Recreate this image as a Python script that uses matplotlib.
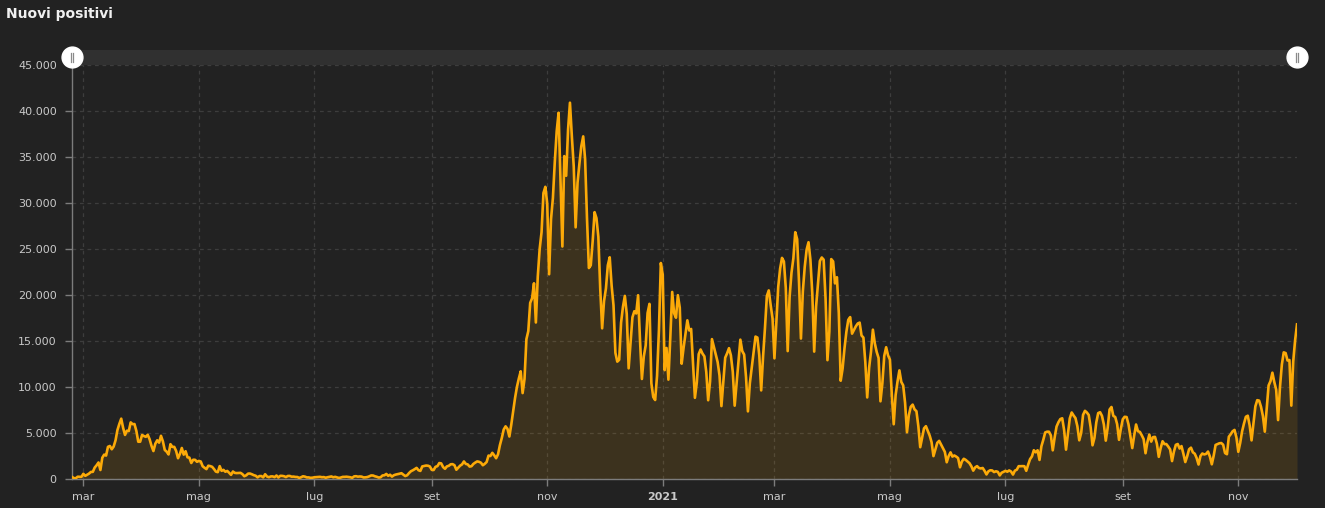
import matplotlib
matplotlib.use("Agg")
import matplotlib.pyplot as plt
import matplotlib.dates as mdates
from matplotlib.ticker import FuncFormatter
from matplotlib.patches import Rectangle
import pandas as pd
import numpy as np

# ---------------- data: daily new positives (Italy) ----------------
start_date = "2020-02-24"
feb_2020 = [221, 93, 78, 250, 238, 240]
mar_2020 = [566, 342, 466, 587, 769, 778, 1247, 1492, 1797, 977, 2313, 2651, 2547, 3497, 3590, 3233,
            3526, 4207, 5322, 5986, 6557, 5560, 4789, 5249, 5210, 6153, 5959, 5974, 5217, 4050, 4053]
apr_2020 = [4782, 4668, 4585, 4805, 4316, 3599, 3039, 3836, 4204, 3951, 4694, 4092, 3153, 2972, 2667,
            3786, 3493, 3491, 3047, 2256, 2729, 3370, 2646, 3021, 2357, 2324, 1739, 2091, 2086, 1872]
may_2020 = [1965, 1900, 1389, 1221, 1075, 1444, 1401, 1327, 1083, 802, 744, 1402, 888, 992, 789, 875,
            675, 451, 813, 665, 642, 652, 669, 531, 300, 397, 584, 593, 516, 416, 355]
jun_2020 = [178, 318, 321, 177, 518, 270, 197, 280, 283, 202, 379, 163, 346, 338, 301, 210, 329, 333,
            251, 262, 224, 218, 122, 190, 296, 259, 175, 174, 126, 142]
jul_2020 = [187, 201, 223, 235, 192, 208, 138, 193, 229, 276, 188, 234, 169, 114, 162, 230, 233, 249,
            219, 190, 129, 282, 306, 252, 275, 255, 170, 181, 212, 289, 386]
aug_2020 = [379, 295, 239, 159, 190, 384, 402, 552, 347, 463, 259, 412, 481, 523, 574, 629, 479, 320,
            403, 642, 845, 947, 1071, 1210, 953, 878, 1367, 1409, 1462, 1444, 1365]
sep_2020 = [996, 978, 1326, 1397, 1733, 1695, 1297, 1108, 1370, 1434, 1597, 1616, 1501, 1008, 1229,
            1452, 1585, 1907, 1638, 1587, 1350, 1391, 1640, 1786, 1912, 1869, 1766, 1494, 1648, 1851]
oct_2020 = [2548, 2499, 2844, 2578, 2257, 2677, 3678, 4458, 5372, 5724, 5456, 4619, 5901, 7332, 8804,
            10010, 10925, 11705, 9338, 10874, 15199, 16079, 19143, 19644, 21273, 17012, 21994, 24991,
            26831, 31084, 31758]
nov_2020 = [29907, 22253, 28244, 30550, 34505, 37809, 39811, 32616, 25271, 35098, 32961, 37978, 40902,
            37255, 33979, 27354, 32191, 34282, 36176, 37242, 34767, 28337, 22930, 23232, 25853, 29003,
            28352, 26323, 20648, 16377]
dec_2020 = [19350, 20709, 23225, 24099, 21052, 18887, 13720, 12756, 12955, 16999, 18727, 19903, 17938,
            12030, 14844, 17572, 18236, 17992, 19974, 15104, 10872, 13318, 14522, 18040, 19037, 10407,
            8913, 8585, 11212, 16202, 23477]
jan_2021 = [22211, 11831, 14245, 10800, 15378, 20331, 18020, 17533, 19978, 18627, 12532, 14242, 15774,
            17246, 16146, 16310, 12545, 8824, 10497, 13571, 14078, 13633, 13331, 11629, 8561, 10593,
            15204, 14372, 13574, 12715, 11252]
feb_2021 = [7925, 10630, 13189, 13659, 14218, 13442, 11641, 7970, 10404, 12956, 15146, 13908, 13532,
            11068, 7351, 10386, 12074, 13762, 15479, 15370, 13452, 9630, 13314, 16424, 19886, 20499,
            18916, 17455]
mar_2021 = [13114, 17083, 20884, 22865, 24036, 23641, 20765, 13902, 19749, 22409, 23989, 26824, 26062,
            21315, 15267, 20396, 23059, 24935, 25735, 23832, 20159, 13846, 18765, 21267, 23696, 24076,
            23839, 19611, 12916, 16017, 23904]
apr_2021 = [23649, 21261, 21932, 18025, 10680, 12000, 14200, 16000, 17300, 17600, 15800, 16200, 16600,
            16900, 17000, 15600, 15370, 12694, 8864, 12074, 13844, 16232, 14761, 13817, 13158, 8444,
            10404, 13385, 14320, 13446]
may_2021 = [12965, 9148, 5948, 9116, 10585, 11807, 10554, 10176, 8292, 5080, 6946, 7852, 8085, 7567,
            7369, 5753, 3455, 4452, 5506, 5741, 5218, 4717, 3995, 2490, 3224, 3937, 4147, 3738, 3351,
            2949, 1820]
jun_2021 = [2483, 2897, 2436, 2557, 2436, 2275, 1273, 1896, 2199, 2079, 1901, 1723, 1390, 907, 1255,
            1400, 1197, 1148, 1197, 881, 495, 835, 951, 927, 753, 838, 778, 389, 679, 776]
jul_2021 = [882, 794, 932, 808, 480, 907, 1010, 1394, 1390, 1400, 1391, 888, 1553, 2153, 2455, 3127,
            2898, 3121, 2072, 3558, 4259, 5057, 5143, 5140, 4743, 3117, 4522, 5696, 6171, 6513, 6599]
aug_2021 = [5321, 3190, 4845, 6596, 7230, 6902, 6619, 5735, 4206, 5000, 6968, 7409, 7230, 6959, 5630,
            3662, 4456, 6161, 7162, 7260, 6860, 5920, 4168, 5559, 7548, 7826, 6860, 6735, 5959, 4257,
            5498]
sep_2021 = [6503, 6761, 6735, 5943, 4664, 3361, 4720, 5923, 5193, 5122, 4755, 4334, 2800, 4021, 4830,
            4061, 4552, 4578, 3835, 2407, 3377, 4103, 3794, 3797, 3525, 3212, 1948, 2985, 3712, 3804]
oct_2021 = [3312, 3578, 2748, 1843, 2466, 3235, 3405, 2900, 2748, 2278, 1574, 2494, 2772, 2668, 2732,
            2983, 2437, 1597, 2535, 3702, 3794, 3882, 3908, 3725, 2818, 2695, 4598, 4866, 5189, 5335,
            4522]
nov_2021 = [2954, 3923, 5178, 6032, 6764, 6879, 5822, 4197, 6069, 7891, 8569, 8516, 7839, 6838, 5144,
            7698, 10172, 10638, 11555, 10544, 9709, 6404, 9970, 12448, 13764, 13686, 12877, 12932, 7975,
            12764]
dec_2021 = [15085, 16806]

tick_dates = ["2020-03-01", "2020-05-01", "2020-07-01", "2020-09-01", "2020-11-01", "2021-01-01",
              "2021-03-01", "2021-05-01", "2021-07-01", "2021-09-01", "2021-11-01"]
tick_labels = ["mar", "mag", "lug", "set", "nov", "2021", "mar", "mag", "lug", "set", "nov"]
y_ticks = [0, 5000, 10000, 15000, 20000, 25000, 30000, 35000, 40000, 45000]
title = "Nuovi positivi"

values = np.array(feb_2020 + mar_2020 + apr_2020 + may_2020 + jun_2020 + jul_2020 + aug_2020 +
                  sep_2020 + oct_2020 + nov_2020 + dec_2020 + jan_2021 + feb_2021 + mar_2021 +
                  apr_2021 + may_2021 + jun_2021 + jul_2021 + aug_2021 + sep_2021 + oct_2021 +
                  nov_2021 + dec_2021, dtype=float)
dates = pd.date_range(start_date, periods=len(values), freq="D")

# ---------------- style ----------------
BG = "#222222"
LINE = "#fcaa08"
GRID = "#3d3d3d"
AXIS = "#7c7c7c"
TXT = "#c9c9c9"

W, H = 1325, 508
fig = plt.figure(figsize=(W / 100, H / 100), dpi=100, facecolor=BG)
L, R, B, T = 72, 1297, 479, 65
ax = fig.add_axes([L / W, (H - B) / H, (R - L) / W, (B - T) / H])
ax.set_facecolor(BG)

ax.fill_between(dates, 0, values, color=LINE, alpha=0.12, linewidth=0, zorder=2)
ax.plot(dates, values, color=LINE, linewidth=1.9, solid_joinstyle="round", zorder=3)

ax.set_xlim(dates[0], dates[-1])
ax.set_ylim(0, 45000)

tick_dt = pd.to_datetime(tick_dates)
ax.set_xticks(tick_dt)
ax.set_xticklabels(tick_labels)
for lbl, txt in zip(ax.get_xticklabels(), tick_labels):
    if txt == "2021":
        lbl.set_fontweight("bold")
        lbl.set_color("#e8e8e8")
ax.set_yticks(y_ticks)
ax.yaxis.set_major_formatter(FuncFormatter(lambda v, p: f"{int(v):,}".replace(",", ".")))

ax.tick_params(axis="both", colors=AXIS, labelcolor=TXT, labelsize=8, length=5, width=1)
ax.tick_params(axis="x", pad=4)
ax.tick_params(axis="y", pad=6)

ax.grid(True, color=GRID, linestyle=(0, (3, 3)), linewidth=0.9, zorder=0)
for s in ["top", "right"]:
    ax.spines[s].set_visible(False)
for s in ["left", "bottom"]:
    ax.spines[s].set_color(AXIS)
    ax.spines[s].set_linewidth(1)

# slider band on top
band_top = (B - 50) / (B - T)
ax.add_patch(Rectangle((0, 1.0), 1, band_top - 1.0, transform=ax.transAxes,
                       facecolor="#303030", edgecolor="none", clip_on=False, zorder=1))
hy = (B - 57.5) / (B - T)
for hx in (0.0, 1.0):
    ax.plot([hx], [hy], marker="o", markersize=15, markerfacecolor="white",
            markeredgecolor="white", transform=ax.transAxes, clip_on=False, zorder=5)
    for dx in (-1.3, 1.3):
        x_ax = hx + dx / (R - L)
        ax.plot([x_ax, x_ax], [hy - 4.5 / (B - T), hy + 4.5 / (B - T)], color="#8a8a8a",
                linewidth=0.9, transform=ax.transAxes, clip_on=False, zorder=6)

fig.text(6 / W, 1 - 14 / H, title, color="#f0f0f0", fontsize=10, fontweight="bold",
         ha="left", va="center")

fig.savefig("out.png", dpi=100, facecolor=BG)
